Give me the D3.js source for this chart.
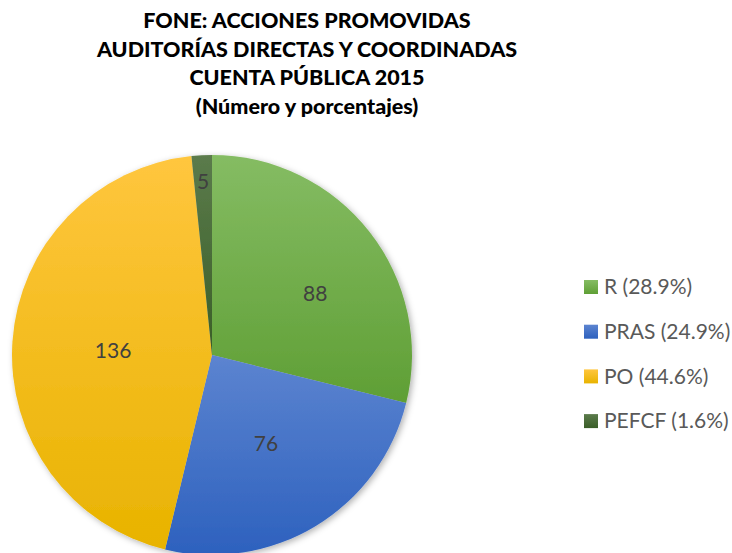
<!DOCTYPE html>
<html>
<head>
<meta charset="utf-8">
<script src="https://cdn.jsdelivr.net/npm/d3@7"></script>
<style>
  body { margin: 0; background: #fff; }
  svg { display: block; }
</style>
</head>
<body>
<div id="chart"></div>
<script>
// Data
var categories = ["R", "PRAS", "PO", "PEFCF"];
var values = [88, 76, 136, 5];
var legendLabels = ["R (28.9%)", "PRAS (24.9%)", "PO (44.6%)", "PEFCF (1.6%)"];
var titleLines = ["FONE: ACCIONES PROMOVIDAS", "AUDITORÍAS DIRECTAS Y COORDINADAS", "CUENTA PÚBLICA 2015", "(Número y porcentajes)"];

// Gradient colours (top, bottom) per slice
var topColors = ["#85bc63", "#5c84d0", "#ffc63e", "#5b7b4c"];
var bottomColors = ["#5f9f35", "#2d61be", "#e8b300", "#3a5e27"];

var width = 732, height = 553;
var cx = 212, cy = 355, radius = 200;

var svg = d3.select("#chart")
  .append("svg")
    .attr("width", width)
    .attr("height", height);

var defs = svg.append("defs");

// Soft shadow like the office default
var shadow = defs.append("filter")
  .attr("id", "shadow")
  .attr("x", "-10%").attr("y", "-10%")
  .attr("width", "130%").attr("height", "130%");
shadow.append("feDropShadow")
  .attr("dx", 2).attr("dy", 2)
  .attr("stdDeviation", 3)
  .attr("flood-color", "#000")
  .attr("flood-opacity", 0.3);

categories.forEach(function(c, i) {
  var g = defs.append("linearGradient")
    .attr("id", "grad" + i)
    .attr("x1", 0).attr("y1", 0)
    .attr("x2", 0).attr("y2", 1);
  g.append("stop").attr("offset", "0%").attr("stop-color", topColors[i]);
  g.append("stop").attr("offset", "100%").attr("stop-color", bottomColors[i]);
});

// Title
svg.append("g")
  .selectAll("text")
  .data(titleLines)
  .enter()
  .append("text")
    .attr("x", 307)
    .attr("y", function(d, i) { return 28 + i * 28.7; })
    .attr("text-anchor", "middle")
    .style("font-family", "Lato, 'Open Sans', sans-serif")
    .style("font-weight", "900")
    .style("font-size", "21.5px")
    .style("fill", "#000")
    .text(function(d) { return d; });

// Pie
var pie = d3.pie().sort(null).value(function(d) { return d; });
var arcs = pie(values);
var arc = d3.arc().innerRadius(0).outerRadius(radius);

var g = svg.append("g")
  .attr("transform", "translate(" + cx + "," + cy + ")");

g.append("g")
  .attr("filter", "url(#shadow)")
  .selectAll("path")
  .data(arcs)
  .enter()
  .append("path")
    .attr("d", arc)
    .attr("fill", function(d, i) { return "url(#grad" + i + ")"; });

// Value labels (best-fit style, nudged a little clockwise for the R slice)
g.selectAll(".lbl")
  .data(arcs)
  .enter()
  .append("text")
    .attr("class", "lbl")
    .attr("transform", function(d) {
      var span = d.endAngle - d.startAngle;
      var a = (d.startAngle + d.endAngle) / 2;
      var r = span < 0.3 ? 174 : 104;
      if (span > 1.7 && span < 2) { a += 0.13; r = 120; }
      if (span > 2.5) { a -= 0.02; r = 99; }
      return "translate(" + (Math.sin(a) * r) + "," + (-Math.cos(a) * r) + ")";
    })
    .attr("dy", "0.35em")
    .attr("text-anchor", "middle")
    .style("font-family", "Lato, 'Open Sans', sans-serif")
    .style("font-size", "21px")
    .style("fill", "#404040")
    .text(function(d) { return d.data; });

// Legend
var legend = svg.append("g")
  .attr("transform", "translate(584,287)");

var items = legend.selectAll("g")
  .data(legendLabels)
  .enter()
  .append("g")
    .attr("transform", function(d, i) { return "translate(0," + (i * 44.7) + ")"; });

items.append("rect")
  .attr("x", 0).attr("y", -7)
  .attr("width", 14).attr("height", 14)
  .attr("fill", function(d, i) { return "url(#grad" + i + ")"; });

items.append("text")
  .attr("x", 20)
  .attr("dy", "0.35em")
  .style("font-family", "Lato, 'Open Sans', sans-serif")
  .style("font-size", "21px")
  .style("fill", "#595959")
  .text(function(d) { return d; });
</script>
</body>
</html>
